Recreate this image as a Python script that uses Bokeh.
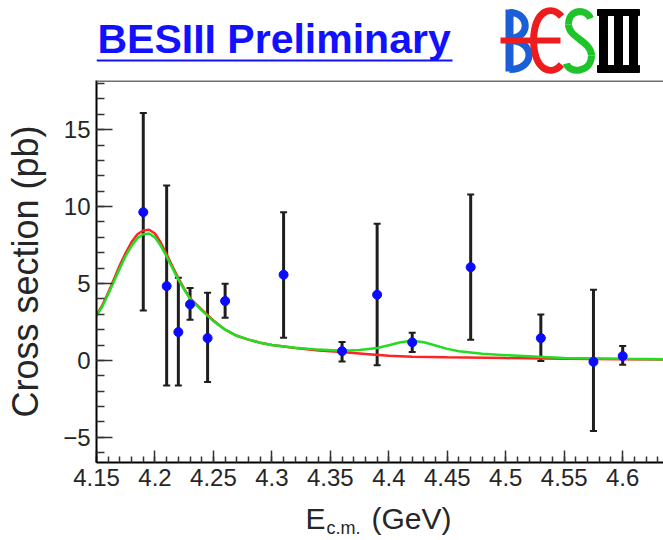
from bokeh.plotting import figure
from bokeh.models import Range1d, Whisker, ColumnDataSource, FixedTicker, TeeHead, Span
from bokeh.layouts import column
from bokeh.embed import file_html
from bokeh.resources import INLINE
from bokeh.core.properties import value

# ---------------- data ----------------
energy = [4.19, 4.21, 4.22, 4.23, 4.245, 4.26, 4.31, 4.36, 4.39, 4.42, 4.47, 4.53, 4.575, 4.60]
xsec = [9.64, 4.83, 1.84, 3.64, 1.45, 3.86, 5.57, 0.60, 4.27, 1.17, 6.06, 1.45, -0.09, 0.28]
err_upper = [16.08, 11.38, 5.37, 4.70, 4.40, 4.99, 9.64, 1.19, 8.88, 1.80, 10.78, 2.99, 4.59, 0.93]
err_lower = [3.25, -1.63, -1.63, 2.64, -1.41, 2.77, 1.47, -0.07, -0.32, 0.54, 1.34, -0.04, -4.59, -0.28]

fit_red_x = [4.150, 4.155, 4.160, 4.165, 4.170, 4.175, 4.180, 4.185, 4.190, 4.195, 4.200, 4.205,
             4.210, 4.215, 4.220, 4.225, 4.230, 4.240, 4.250, 4.260, 4.270, 4.280, 4.290, 4.300,
             4.320, 4.340, 4.360, 4.380, 4.400, 4.420, 4.450, 4.500, 4.550, 4.600, 4.635]
fit_red_y = [2.95, 3.6, 4.4, 5.3, 6.2, 7.0, 7.7, 8.2, 8.45, 8.5, 8.25, 7.65,
             6.9, 6.1, 5.35, 4.65, 4.05, 3.3, 2.6, 2.0, 1.6, 1.35, 1.15, 1.0,
             0.8, 0.65, 0.54, 0.42, 0.30, 0.24, 0.20, 0.15, 0.11, 0.08, 0.06]

fit_green_x = [4.150, 4.155, 4.160, 4.165, 4.170, 4.175, 4.180, 4.185, 4.190, 4.195, 4.200, 4.205,
               4.210, 4.215, 4.220, 4.225, 4.230, 4.240, 4.250, 4.260, 4.270, 4.280, 4.290, 4.300,
               4.320, 4.340, 4.360, 4.375, 4.390, 4.400, 4.410, 4.420, 4.430, 4.440, 4.450, 4.460,
               4.480, 4.500, 4.550, 4.600, 4.635]
fit_green_y = [2.9, 3.5, 4.3, 5.15, 6.0, 6.8, 7.45, 7.95, 8.2, 8.25, 8.0, 7.45,
               6.75, 6.0, 5.25, 4.6, 4.0, 3.25, 2.55, 2.0, 1.6, 1.35, 1.15, 1.0,
               0.82, 0.70, 0.63, 0.68, 0.80, 0.98, 1.18, 1.27, 1.18, 0.97, 0.75, 0.60,
               0.43, 0.34, 0.16, 0.10, 0.07]

x_ticks = [4.15, 4.20, 4.25, 4.30, 4.35, 4.40, 4.45, 4.50, 4.55, 4.60]
x_tick_labels = ["4.15", "4.2", "4.25", "4.3", "4.35", "4.4", "4.45", "4.5", "4.55", "4.6"]
y_ticks = [-5, 0, 5, 10, 15]

FONT = "Liberation Sans"
TXT = "#262626"
W = 663
LEFT = 96


def deco_fig(height, top, bottom):
    f = figure(width=W, height=height, title=None, x_range=Range1d(LEFT, W),
               y_range=Range1d(bottom, top), toolbar_location=None, output_backend="svg",
               min_border_left=LEFT, min_border_right=0, min_border_top=0, min_border_bottom=0,
               x_axis_type=None, y_axis_type=None)
    f.grid.visible = False
    f.outline_line_color = None
    return f


# ---------------- header (title + logo); coordinates = page pixels ----------------
h = deco_fig(78, 0, 78)
h.text(x=[97], y=[38], text=["BESIII Preliminary"], text_font=value(FONT),
       text_font_style="bold", text_font_size="41px", text_color="#1111ff",
       text_baseline="middle", text_align="left")
h.segment(x0=[96], y0=[60], x1=[452], y1=[60], line_color="#1111ff", line_width=2)

BLUE_L, RED_L, GREEN_L = "#1a5ed8", "#ee1c1c", "#1fc42a"
# B
h.segment(x0=[509], y0=[9], x1=[509], y1=[71], line_color=BLUE_L, line_width=8)
h.bezier(x0=[509, 509], y0=[12, 40], x1=[509, 509], y1=[38, 69],
         cx0=[530, 535], cy0=[12, 40], cx1=[530, 535], cy1=[38, 69],
         line_color=BLUE_L, line_width=7)
# E (euro-like)
h.bezier(x0=[561, 533], y0=[16, 40], x1=[533, 561], y1=[40, 64],
         cx0=[552, 534], cy0=[5, 72], cx1=[534, 552], cy1=[8, 75],
         line_color=RED_L, line_width=7)
h.segment(x0=[500], y0=[40], x1=[560], y1=[40], line_color=RED_L, line_width=6)
# S
h.bezier(x0=[590, 568, 591], y0=[18, 24, 55], x1=[568, 591, 566], y1=[24, 55, 63],
         cx0=[586, 568, 591], cy0=[8, 37, 73], cx1=[568, 591, 568], cy1=[8, 41, 73],
         line_color=GREEN_L, line_width=7)
# III
h.quad(left=[597, 597, 599, 614, 629], right=[639, 639, 607, 622, 637],
       top=[9, 65, 9, 9, 9], bottom=[15, 72, 72, 72, 72], color="black")

# ---------------- main plot ----------------
p = figure(width=W, height=422, title=None, x_range=Range1d(4.15, 4.6349),
           y_range=Range1d(-6.64, 18.2), toolbar_location=None, output_backend="svg",
           min_border_left=LEFT, min_border_right=0, min_border_top=2, min_border_bottom=38)
p.grid.visible = False
p.outline_line_color = None

p.add_layout(Span(location=18.2, dimension="width", line_color="#707070", line_width=3))

src = ColumnDataSource(dict(x=energy, y=xsec, upper=err_upper, lower=err_lower))
p.add_layout(Whisker(base="x", upper="upper", lower="lower", source=src,
                     line_color="#1e1e1e", line_width=3,
                     upper_head=TeeHead(size=7, line_color="#1e1e1e", line_width=2),
                     lower_head=TeeHead(size=7, line_color="#1e1e1e", line_width=2)))

p.line(fit_red_x, fit_red_y, line_color="#ff2424", line_width=2.5)
p.line(fit_green_x, fit_green_y, line_color="#22dd22", line_width=2.5)
p.scatter(x="x", y="y", source=src, size=9, color="#0a0aff")

xminor = [round(4.15 + 0.01 * i, 2) for i in range(0, 49)]
p.xaxis.ticker = FixedTicker(ticks=x_ticks, minor_ticks=xminor)
p.xaxis.major_label_overrides = {t: l for t, l in zip(x_ticks, x_tick_labels)}
yminor = list(range(-6, 19))
p.yaxis.ticker = FixedTicker(ticks=y_ticks, minor_ticks=yminor)

for ax in (p.xaxis[0], p.yaxis[0]):
    ax.axis_line_width = 2
    ax.axis_line_color = "black"
    ax.major_tick_out = 0
    ax.minor_tick_out = 0
    ax.major_tick_line_color = "#333333"
    ax.minor_tick_line_color = "#333333"
    ax.major_tick_line_width = 1.5
    ax.minor_tick_line_width = 1.5
    ax.major_label_text_font = FONT
    ax.major_label_text_font_size = "24px"
    ax.major_label_text_color = TXT
    ax.major_label_standoff = 6

p.xaxis.major_tick_in = 12
p.xaxis.minor_tick_in = 6
p.yaxis.major_tick_in = 16
p.yaxis.minor_tick_in = 8

p.yaxis.axis_label = "Cross section (pb)"
p.yaxis.axis_label_text_font = FONT
p.yaxis.axis_label_text_font_size = "36px"
p.yaxis.axis_label_text_font_style = "normal"
p.yaxis.axis_label_text_color = TXT
p.yaxis.axis_label_standoff = 14

# ---------------- footer: x-axis title with subscript; coordinates = page pixels ----------------
ft = deco_fig(40, 500, 540)
ft.text(x=[305, 371], y=[518, 518], text=["E", "(GeV)"], text_font=value(FONT),
        text_font_size="30px", text_color=TXT, text_baseline="middle", text_align="left")
ft.text(x=[326], y=[527], text=["c.m."], text_font=value(FONT),
        text_font_size="18px", text_color=TXT, text_baseline="middle", text_align="left")

layout = column(h, p, ft, spacing=0)
open("out.html", "w").write(file_html(layout, INLINE))
